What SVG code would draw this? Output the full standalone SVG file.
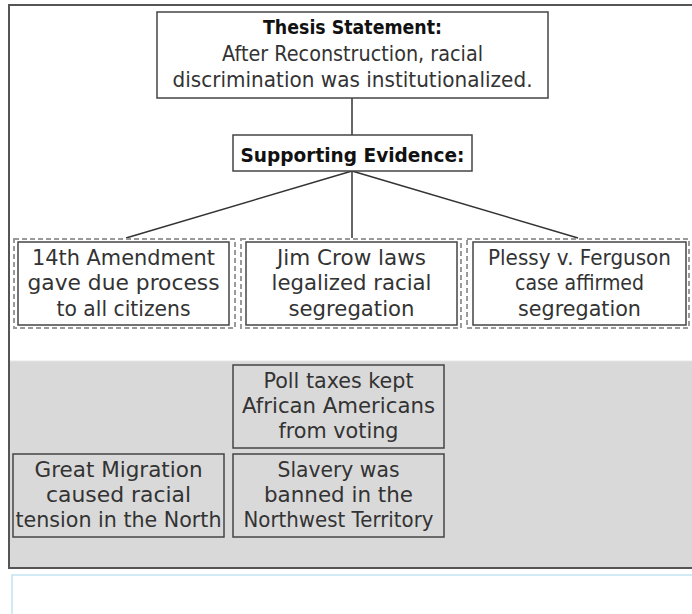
<svg xmlns="http://www.w3.org/2000/svg" width="692" height="614" viewBox="0 0 692 614">
  <style>
    .box { fill: #ffffff; stroke: #444444; stroke-width: 1.5; }
    .card { fill: #d9d9d9; stroke: #444444; stroke-width: 1.5; }
    .slot { fill: none; stroke: #9a9a9a; stroke-width: 2; stroke-dasharray: 5 3; }
    .link { stroke: #333333; stroke-width: 1.5; fill: none; }
    text { font-family: "DejaVu Sans", "Liberation Sans", sans-serif; font-size: 21px; fill: #333333; text-anchor: middle; }
    .bold { font-weight: bold; font-size: 20px; fill: #111111; }
  </style>

  <!-- page background and outer frame -->
  <rect x="0" y="0" width="692" height="614" fill="#ffffff"/>
  <rect x="9" y="361" width="690" height="207" fill="#d9d9d9"/>
  <line x1="9" y1="361" x2="692" y2="361" stroke="#e6e6e6" stroke-width="1"/>
  <path d="M692 5 H9 V568 H692" fill="none" stroke="#555555" stroke-width="2"/>
  <!-- answer area below the frame -->
  <rect x="12" y="575" width="700" height="60" fill="#ffffff" stroke="#c3e4ef" stroke-width="1.5"/>

  <!-- connectors -->
  <g id="connectors">
    <line class="link" x1="352" y1="98" x2="352" y2="135"/>
    <line class="link" x1="352" y1="171" x2="126" y2="238"/>
    <line class="link" x1="352" y1="171" x2="352" y2="238"/>
    <line class="link" x1="352" y1="171" x2="578" y2="238"/>
  </g>

  <g id="thesis">
    <rect class="box" x="157" y="12" width="391" height="86"/>
    <text class="bold" x="352.5" y="34" textLength="179" lengthAdjust="spacingAndGlyphs">Thesis Statement:</text>
    <text x="352.5" y="60.5" textLength="261" lengthAdjust="spacingAndGlyphs">After Reconstruction, racial</text>
    <text x="352.5" y="87" textLength="360" lengthAdjust="spacingAndGlyphs">discrimination was institutionalized.</text>
  </g>

  <g id="supporting-evidence">
    <rect class="box" x="233" y="135" width="239" height="36"/>
    <text class="bold" x="352.5" y="162" textLength="224" lengthAdjust="spacingAndGlyphs">Supporting Evidence:</text>
  </g>

  <!-- evidence slots -->
  <g id="slot-1">
    <rect class="slot" x="14" y="239" width="221" height="89"/>
    <rect class="box" x="18" y="242" width="211" height="83"/>
    <text x="123.5" y="265" textLength="183" lengthAdjust="spacingAndGlyphs">14th Amendment</text>
    <text x="123.5" y="290" textLength="192" lengthAdjust="spacingAndGlyphs">gave due process</text>
    <text x="123.5" y="316" textLength="134" lengthAdjust="spacingAndGlyphs">to all citizens</text>
  </g>

  <g id="slot-2">
    <rect class="slot" x="241" y="239" width="220" height="89"/>
    <rect class="box" x="246" y="242" width="211" height="83"/>
    <text x="351.5" y="265" textLength="149" lengthAdjust="spacingAndGlyphs">Jim Crow laws</text>
    <text x="351.5" y="290" textLength="160" lengthAdjust="spacingAndGlyphs">legalized racial</text>
    <text x="351.5" y="316" textLength="126" lengthAdjust="spacingAndGlyphs">segregation</text>
  </g>

  <g id="slot-3">
    <rect class="slot" x="467" y="239" width="222" height="89"/>
    <rect class="box" x="473" y="242" width="213" height="83"/>
    <text x="579.5" y="265" textLength="183" lengthAdjust="spacingAndGlyphs">Plessy v. Ferguson</text>
    <text x="579.5" y="290" textLength="129" lengthAdjust="spacingAndGlyphs">case affirmed</text>
    <text x="579.5" y="316" textLength="123" lengthAdjust="spacingAndGlyphs">segregation</text>
  </g>

  <!-- answer choices -->
  <g id="poll-taxes">
    <rect class="card" x="233" y="365" width="211" height="83"/>
    <text x="338.5" y="388" textLength="150" lengthAdjust="spacingAndGlyphs">Poll taxes kept</text>
    <text x="338.5" y="413" textLength="193" lengthAdjust="spacingAndGlyphs">African Americans</text>
    <text x="338.5" y="438" textLength="120" lengthAdjust="spacingAndGlyphs">from voting</text>
  </g>

  <g id="great-migration">
    <rect class="card" x="13" y="454" width="211" height="83"/>
    <text x="118.5" y="477" textLength="168" lengthAdjust="spacingAndGlyphs">Great Migration</text>
    <text x="118.5" y="502" textLength="145" lengthAdjust="spacingAndGlyphs">caused racial</text>
    <text x="118.5" y="527" textLength="206" lengthAdjust="spacingAndGlyphs">tension in the North</text>
  </g>

  <g id="northwest-territory">
    <rect class="card" x="233" y="454" width="211" height="83"/>
    <text x="338.5" y="477" textLength="122" lengthAdjust="spacingAndGlyphs">Slavery was</text>
    <text x="338.5" y="502" textLength="149" lengthAdjust="spacingAndGlyphs">banned in the</text>
    <text x="338.5" y="527" textLength="190" lengthAdjust="spacingAndGlyphs">Northwest Territory</text>
  </g>
</svg>
